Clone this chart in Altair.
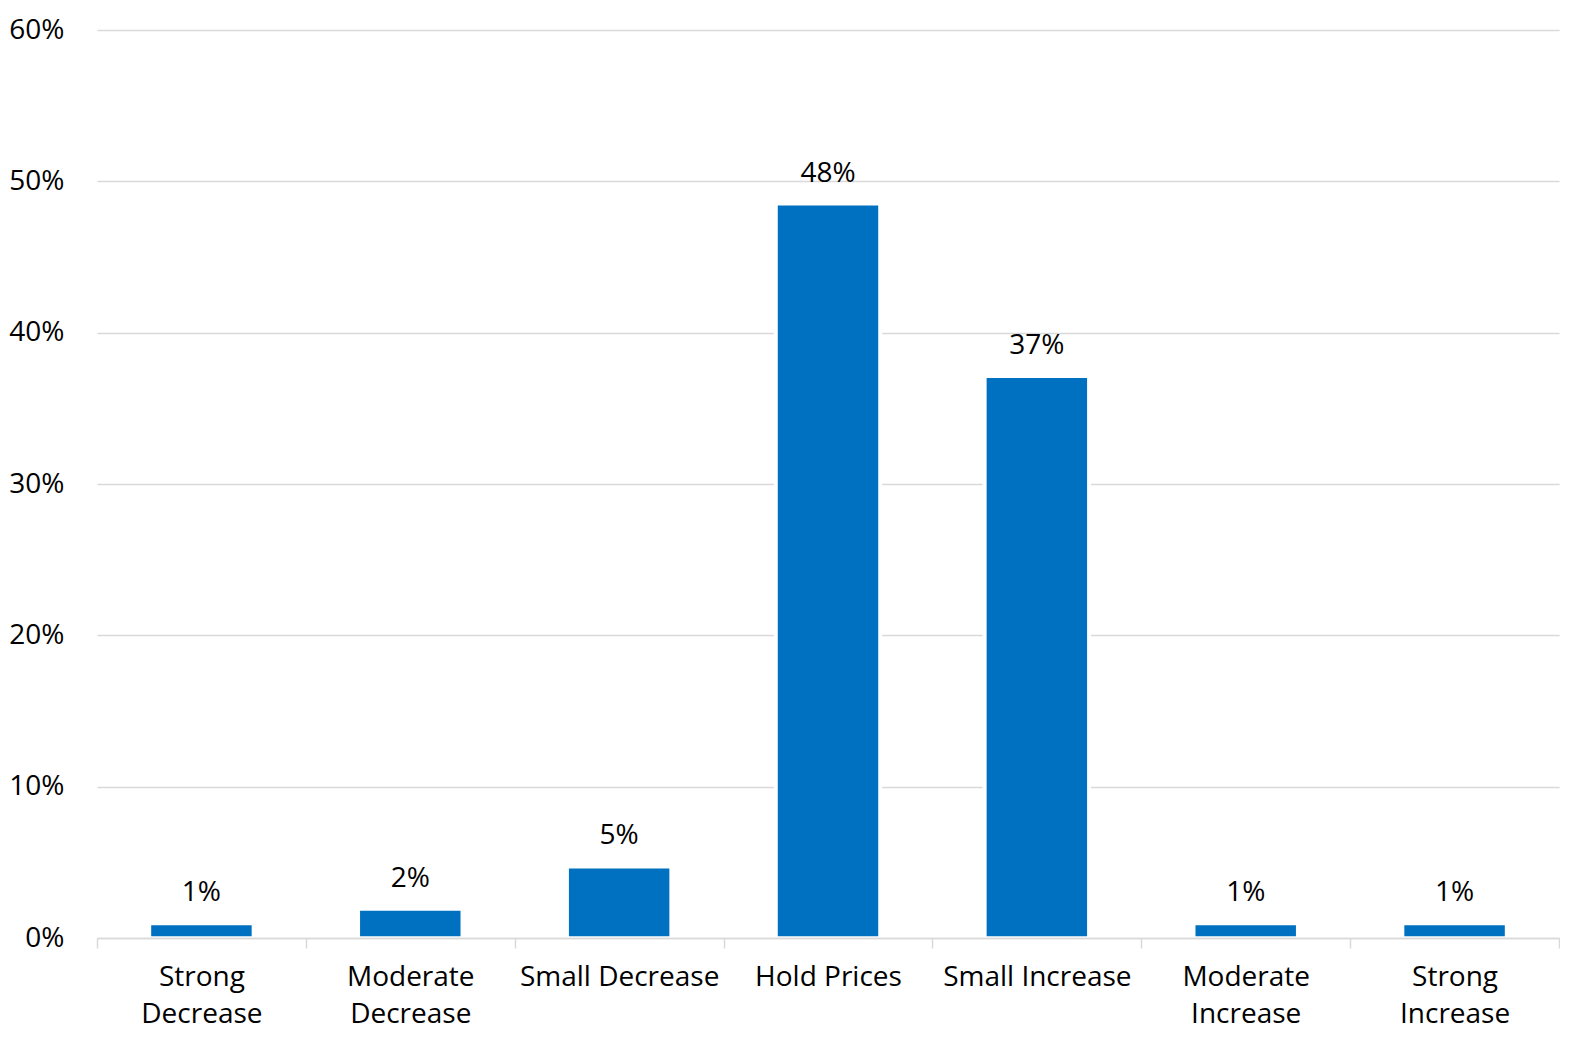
import altair as alt
import pandas as pd

categories = ["Strong Decrease", "Moderate Decrease", "Small Decrease", "Hold Prices",
              "Small Increase", "Moderate Increase", "Strong Increase"]
values = [0.0085, 0.018, 0.046, 0.484, 0.370, 0.0085, 0.0085]
value_labels = ["1%", "2%", "5%", "48%", "37%", "1%", "1%"]
wrapped = ["Strong Decrease", "Moderate Decrease", "Moderate Increase", "Strong Increase"]

df = pd.DataFrame({"cat": categories, "val": values, "lab": value_labels})
df["base"] = 0.0012
df["top"] = df["val"] + 0.003

FONT = "Open Sans"
BLUE = "#0070C0"
GRID = "#d9d9d9"
FS = 28

label_expr = ("indexof(" + str(wrapped) + ", datum.value) >= 0 ? split(datum.value, ' ') : datum.value")

x_enc = alt.X("cat:N", sort=categories, title=None,
              scale=alt.Scale(paddingInner=0.0, paddingOuter=0.0),
              axis=alt.Axis(labelAngle=0, labelExpr=label_expr, labelFontSize=FS, labelFont=FONT,
                            labelColor="#000000", labelLineHeight=37, labelPadding=15, labelLimit=0,
                            tickBand="extent", ticks=True, tickSize=10, tickColor=GRID, tickWidth=1.5,
                            domainColor=GRID, domainWidth=1.5, grid=False, labelBaseline="top"))

y_scale = alt.Scale(domain=[0, 0.6], nice=False)

gap = alt.Chart(df).mark_bar(color="white", width=alt.RelativeBandSize(0.52)).encode(
    x=x_enc,
    y=alt.Y("base:Q", scale=y_scale, title=None,
            axis=alt.Axis(format=".0%", values=[0, 0.1, 0.2, 0.3, 0.4, 0.5, 0.6],
                          labelFontSize=FS, labelFont=FONT, labelColor="#000000",
                          labelPadding=33, ticks=False, domain=False, labelFlush=False,
                          grid=True, gridColor=GRID, gridWidth=1.5)),
    y2="top:Q",
)

bars = alt.Chart(df).mark_bar(color=BLUE, width=alt.RelativeBandSize(0.481)).encode(
    x=alt.X("cat:N", sort=categories),
    y=alt.Y("base:Q", scale=y_scale),
    y2="val:Q",
)

texts = alt.Chart(df).mark_text(baseline="middle", dy=-32, fontSize=FS, font=FONT, color="#000000").encode(
    x=alt.X("cat:N", sort=categories),
    y=alt.Y("val:Q", scale=y_scale),
    text="lab:N",
)

chart = (gap + bars + texts).properties(
    width=1462, height=908,
    padding={"left": 0, "top": 8, "right": 0, "bottom": 10},
).configure_view(stroke=None)

chart.save("out.html", embed_options={"renderer": "svg", "actions": False})
